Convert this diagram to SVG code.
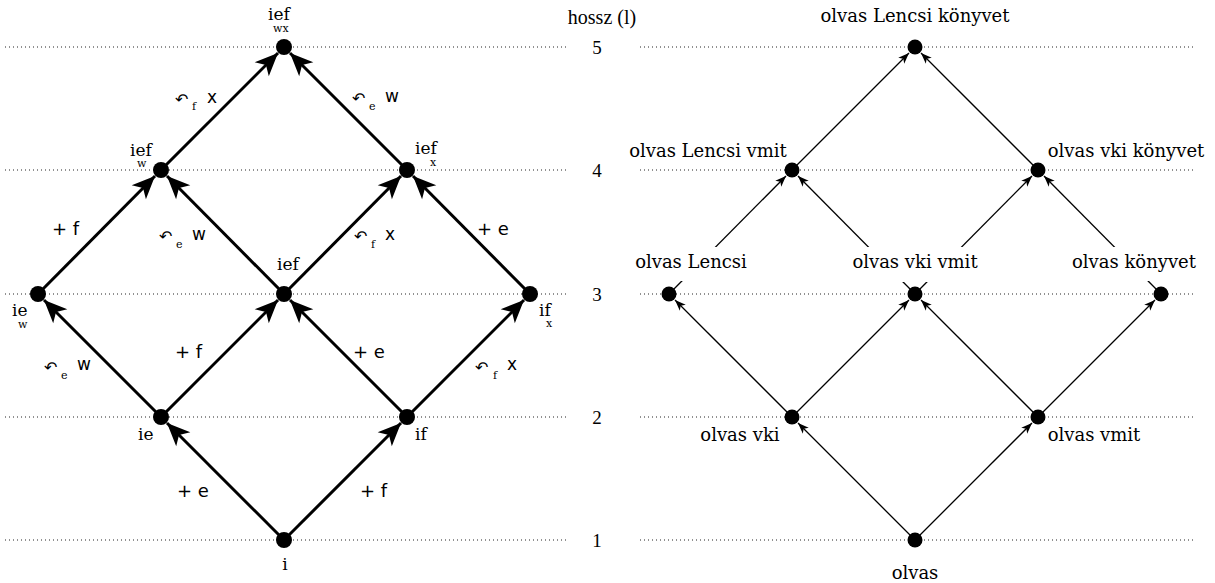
<svg xmlns="http://www.w3.org/2000/svg" width="1215" height="583" viewBox="0 0 1215 583">
<style>
.lvl{stroke:#222;stroke-width:1;stroke-dasharray:1 3;fill:none}
.num{font-family:"Liberation Serif",serif;font-size:19px;fill:#000}
.hd{font-family:"Liberation Serif",serif;font-size:20px;fill:#000}
.thick{stroke:#000;stroke-width:3;fill:none;marker-end:url(#big)}
.thin{stroke:#000;stroke-width:1.3;fill:none;marker-end:url(#small)}
.dot{fill:#000}
.nl{font-family:"DejaVu Serif",serif;font-size:17px;fill:#000}
.ns{font-family:"DejaVu Serif",serif;font-size:11px;fill:#000}
.rl{font-family:"DejaVu Serif",serif;font-size:18px;fill:#000}
.el{font-family:"DejaVu Sans",sans-serif;font-size:17px;fill:#000}
.pl{font-family:"DejaVu Sans",sans-serif;font-size:18px;fill:#000;white-space:pre}
.ca{font-family:"DejaVu Sans",sans-serif;font-size:16px;fill:#000}
.sb{font-family:"DejaVu Serif",serif;font-size:11px;fill:#000}
.bg{fill:#fff}
</style>
<defs>
<marker id="big" markerUnits="userSpaceOnUse" markerWidth="30" markerHeight="30" refX="0" refY="0" orient="auto" overflow="visible" viewBox="-25 -12 30 24">
<path d="M0,0 L-23,-10 L-17,0 L-23,10 Z" fill="#000"/>
</marker>
<marker id="small" markerUnits="userSpaceOnUse" markerWidth="14" markerHeight="10" refX="0" refY="0" orient="auto" overflow="visible" viewBox="-12 -5 14 10">
<path d="M0,0 L-11,-4.2 L-8,0 L-11,4.2 Z" fill="#000"/>
</marker>
</defs>

<g id="levels">
<line class="lvl" x1="5" y1="47" x2="566" y2="47"/>
<line class="lvl" x1="5" y1="170" x2="566" y2="170"/>
<line class="lvl" x1="5" y1="294" x2="566" y2="294"/>
<line class="lvl" x1="5" y1="417" x2="566" y2="417"/>
<line class="lvl" x1="5" y1="540" x2="566" y2="540"/>
<line class="lvl" x1="640" y1="47" x2="1196" y2="47"/>
<line class="lvl" x1="640" y1="170" x2="1196" y2="170"/>
<line class="lvl" x1="640" y1="294" x2="1196" y2="294"/>
<line class="lvl" x1="640" y1="417" x2="1196" y2="417"/>
<line class="lvl" x1="640" y1="540" x2="1196" y2="540"/>
<text class="hd" x="602" y="24" text-anchor="middle">hossz (l)</text>
<text class="num" x="597" y="54" text-anchor="middle">5</text>
<text class="num" x="597" y="177" text-anchor="middle">4</text>
<text class="num" x="597" y="301" text-anchor="middle">3</text>
<text class="num" x="597" y="424" text-anchor="middle">2</text>
<text class="num" x="597" y="547" text-anchor="middle">1</text>
</g>

<g id="connectors-left">
<line class="thick" x1="284" y1="540" x2="167" y2="423"/>
<line class="thick" x1="284" y1="540" x2="401" y2="423"/>
<line class="thick" x1="161" y1="417" x2="44" y2="300"/>
<line class="thick" x1="161" y1="417" x2="278" y2="300"/>
<line class="thick" x1="407" y1="417" x2="290" y2="300"/>
<line class="thick" x1="407" y1="417" x2="524" y2="300"/>
<line class="thick" x1="38" y1="294" x2="155" y2="176"/>
<line class="thick" x1="284" y1="294" x2="167" y2="176"/>
<line class="thick" x1="284" y1="294" x2="401" y2="176"/>
<line class="thick" x1="530" y1="294" x2="413" y2="176"/>
<line class="thick" x1="161" y1="170" x2="278" y2="53"/>
<line class="thick" x1="407" y1="170" x2="290" y2="53"/>
</g>

<g id="edge-labels-left">
<text class="pl" x="177" y="497">+ e</text>
<text class="pl" x="360" y="497">+ f</text>
<text class="pl" x="175" y="358">+ f</text>
<text class="pl" x="353" y="358">+ e</text>
<text class="pl" x="52" y="235">+ f</text>
<text class="pl" x="477" y="235">+ e</text>
<g><text class="ca" x="44" y="373">↶</text><text class="sb" x="61" y="379">e</text><text class="el" x="77" y="370">w</text></g>
<g><text class="ca" x="475" y="373">↶</text><text class="sb" x="493" y="379">f</text><text class="el" x="507" y="370">x</text></g>
<g><text class="ca" x="159" y="242">↶</text><text class="sb" x="176" y="248">e</text><text class="el" x="192" y="240">w</text></g>
<g><text class="ca" x="354" y="242">↶</text><text class="sb" x="371" y="248">f</text><text class="el" x="385" y="240">x</text></g>
<g><text class="ca" x="175" y="105">↶</text><text class="sb" x="192" y="110">f</text><text class="el" x="207" y="103">x</text></g>
<g><text class="ca" x="352" y="104">↶</text><text class="sb" x="369" y="110">e</text><text class="el" x="385" y="102">w</text></g>
</g>

<g id="n-i"><circle class="dot" cx="284" cy="540" r="8"/><text class="nl" x="285" y="570" text-anchor="middle">i</text></g>
<g id="n-ie"><circle class="dot" cx="161" cy="417" r="8"/><text class="nl" x="138" y="440">ie</text></g>
<g id="n-if"><circle class="dot" cx="407" cy="417" r="8"/><text class="nl" x="415" y="440">if</text></g>
<g id="n-iew"><circle class="dot" cx="38" cy="294" r="8"/><text class="nl" x="12" y="316">ie</text><text class="ns" x="18" y="328">w</text></g>
<g id="n-ief"><circle class="dot" cx="284" cy="294" r="8"/><text class="nl" x="277" y="270">ief</text></g>
<g id="n-ifx"><circle class="dot" cx="530" cy="294" r="8"/><text class="nl" x="539" y="316">if</text><text class="ns" x="546" y="327">x</text></g>
<g id="n-iefw"><circle class="dot" cx="161" cy="170" r="8"/><text class="nl" x="130" y="156">ief</text><text class="ns" x="137" y="167">w</text></g>
<g id="n-iefx"><circle class="dot" cx="407" cy="170" r="8"/><text class="nl" x="415" y="154">ief</text><text class="ns" x="430" y="166">x</text></g>
<g id="n-iefwx"><circle class="dot" cx="284" cy="47" r="8"/><text class="nl" x="268" y="20">ief</text><text class="ns" x="273" y="32">wx</text></g>

<g id="connectors-right">
<line class="thin" x1="915" y1="540" x2="798" y2="423"/>
<line class="thin" x1="915" y1="540" x2="1032" y2="423"/>
<line class="thin" x1="792" y1="417" x2="675" y2="300"/>
<line class="thin" x1="792" y1="417" x2="909" y2="300"/>
<line class="thin" x1="1038" y1="417" x2="921" y2="300"/>
<line class="thin" x1="1038" y1="417" x2="1155" y2="300"/>
<line class="thin" x1="669" y1="294" x2="786" y2="176"/>
<line class="thin" x1="915" y1="294" x2="798" y2="176"/>
<line class="thin" x1="915" y1="294" x2="1032" y2="176"/>
<line class="thin" x1="1161" y1="294" x2="1044" y2="176"/>
<line class="thin" x1="792" y1="170" x2="909" y2="53"/>
<line class="thin" x1="1038" y1="170" x2="921" y2="53"/>
</g>

<g id="r-olvas"><circle class="dot" cx="915" cy="540" r="7.5"/><text class="rl" x="915" y="579" text-anchor="middle">olvas</text></g>
<g id="r-vki"><circle class="dot" cx="792" cy="417" r="7.5"/><text class="rl" x="740" y="441" text-anchor="middle">olvas vki</text></g>
<g id="r-vmit"><circle class="dot" cx="1038" cy="417" r="7.5"/><text class="rl" x="1094" y="441" text-anchor="middle">olvas vmit</text></g>
<g id="r-lencsi"><rect class="bg" x="632" y="247" width="119" height="34"/><circle class="dot" cx="669" cy="294" r="7.5"/><text class="rl" x="691" y="268" text-anchor="middle">olvas Lencsi</text></g>
<g id="r-vkivmit"><rect class="bg" x="849" y="247" width="133" height="35"/><circle class="dot" cx="915" cy="294" r="7.5"/><text class="rl" x="915" y="268" text-anchor="middle">olvas vki vmit</text></g>
<g id="r-konyvet"><rect class="bg" x="1076" y="247" width="116" height="34"/><circle class="dot" cx="1161" cy="294" r="7.5"/><text class="rl" x="1134" y="268" text-anchor="middle">olvas könyvet</text></g>
<g id="r-lencsivmit"><circle class="dot" cx="792" cy="170" r="7.5"/><text class="rl" x="708" y="157" text-anchor="middle">olvas Lencsi vmit</text></g>
<g id="r-vkikonyvet"><circle class="dot" cx="1038" cy="170" r="7.5"/><text class="rl" x="1126" y="157" text-anchor="middle">olvas vki könyvet</text></g>
<g id="r-top"><circle class="dot" cx="915" cy="47" r="7.5"/><text class="rl" x="915" y="22" text-anchor="middle">olvas Lencsi könyvet</text></g>
</svg>
